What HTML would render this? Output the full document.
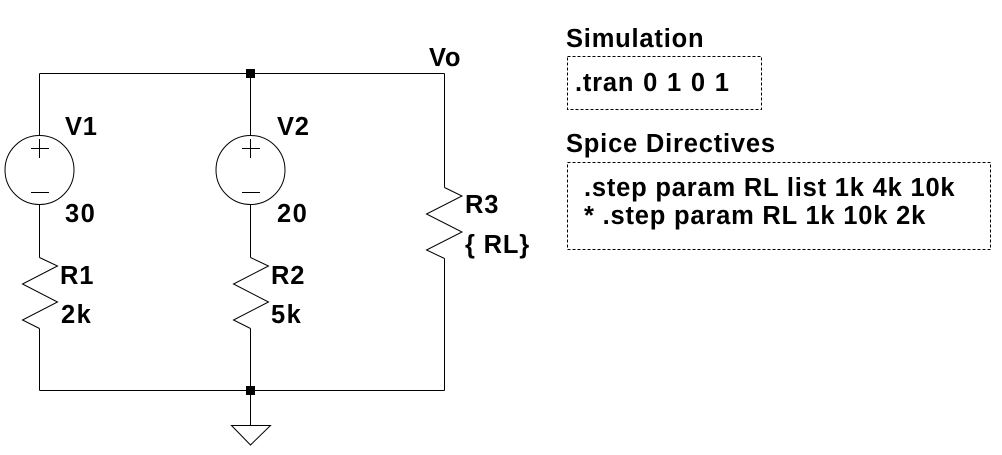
<!DOCTYPE html>
<html>
<head>
<meta charset="utf-8">
<style>
html,body{margin:0;padding:0;background:#fff;}
svg{display:block;}
text{font-family:"Liberation Sans",Arial,sans-serif;font-weight:bold;font-size:25.5px;letter-spacing:0.8px;fill:#000;}
</style>
</head>
<body>
<svg width="1002" height="455" viewBox="0 0 1002 455" xmlns="http://www.w3.org/2000/svg">
<g stroke="#000" stroke-width="1" fill="none" shape-rendering="crispEdges">
  <!-- top wire -->
  <line x1="39.5" y1="73.5" x2="444.5" y2="73.5"/>
  <!-- bottom wire -->
  <line x1="39.5" y1="390.5" x2="444.5" y2="390.5"/>
  <!-- left branch -->
  <line x1="39.5" y1="73.5" x2="39.5" y2="135.5"/>
  <line x1="39.5" y1="204.5" x2="39.5" y2="257.5"/>
  <line x1="39.5" y1="328.5" x2="39.5" y2="390.5"/>
  <!-- middle branch -->
  <line x1="250.5" y1="73.5" x2="250.5" y2="135.5"/>
  <line x1="250.5" y1="204.5" x2="250.5" y2="257.5"/>
  <line x1="250.5" y1="328.5" x2="250.5" y2="425.5"/>
  <!-- right branch -->
  <line x1="444.5" y1="73.5" x2="444.5" y2="187.5"/>
  <line x1="444.5" y1="258.5" x2="444.5" y2="390.5"/>
  <!-- plus/minus signs -->
  <line x1="31" y1="148.5" x2="49" y2="148.5"/>
  <line x1="39.5" y1="139" x2="39.5" y2="158"/>
  <line x1="31" y1="192.5" x2="49" y2="192.5"/>
  <line x1="242" y1="148.5" x2="260" y2="148.5"/>
  <line x1="250.5" y1="139" x2="250.5" y2="158"/>
  <line x1="242" y1="192.5" x2="260" y2="192.5"/>
</g>
<g stroke="#000" stroke-width="1" fill="none">
  <circle cx="39.5" cy="170" r="34.5"/>
  <circle cx="250.5" cy="170" r="34.5"/>
  <!-- resistors -->
  <polyline points="39.5,257.5 57.5,266 22.5,284 57.5,302 22.5,320 39.5,328.5"/>
  <polyline points="250.5,257.5 268.5,266 233.5,284 268.5,302 233.5,320 250.5,328.5"/>
  <polyline points="444.5,187.5 462,196 426.5,214 462,232 426.5,250 444.5,258.5"/>
  <!-- ground -->
  <polygon points="231.5,425.5 270.5,425.5 250.5,445"/>
</g>
<!-- junctions -->
<rect x="246" y="69" width="9" height="9" fill="#000"/>
<rect x="246" y="386" width="9" height="9" fill="#000"/>

<!-- directive boxes -->
<g stroke="#000" stroke-width="1" fill="none" stroke-dasharray="3,2" shape-rendering="crispEdges">
  <rect x="567.5" y="56.5" width="194" height="53"/>
  <rect x="567.5" y="162.5" width="423" height="87"/>
</g>

<!-- labels -->
<text x="429" y="66">Vo</text>
<text x="65" y="135">V1</text>
<text x="65" y="222" style="letter-spacing:1.5px">30</text>
<text x="60" y="284">R1</text>
<text x="61" y="323" style="letter-spacing:1.5px">2k</text>
<text x="277" y="135">V2</text>
<text x="277" y="222" style="letter-spacing:1.5px">20</text>
<text x="271" y="284">R2</text>
<text x="271" y="323" style="letter-spacing:1.5px">5k</text>
<text x="465" y="213">R3</text>
<text x="465" y="253">{ RL}</text>

<text x="566" y="47">Simulation</text>
<text x="575" y="91" style="word-spacing:1px">.tran 0 1 0 1</text>
<text x="566" y="152">Spice Directives</text>
<text x="584" y="196">.step param RL list 1k 4k 10k</text>
<text x="584" y="224">* .step param RL 1k 10k 2k</text>
</svg>
</body>
</html>
